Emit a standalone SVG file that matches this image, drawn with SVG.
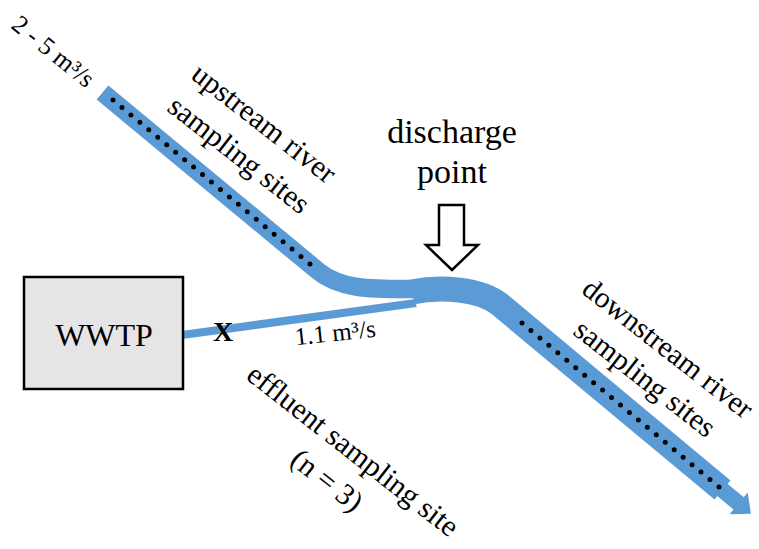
<svg xmlns="http://www.w3.org/2000/svg" width="759" height="549" viewBox="0 0 759 549">
<style>
.river{fill:none;stroke:#5B9BD5;stroke-linecap:butt;stroke-linejoin:round}
.dots{fill:none;stroke:#000;stroke-width:5;stroke-linecap:round;stroke-dasharray:0 11.65}
.t{font-family:"Liberation Serif","Times New Roman",serif;fill:#000}
</style>
<rect width="759" height="549" fill="#fff"/>
<g id="connectors">
  <path id="effluent" class="river" stroke-width="8" d="M182,335 L416,303"/>
  <path id="upstream" class="river" stroke-width="18.5" d="M102.5,92.5 L318,271 C341,290 373,289 414,289"/>
  <path id="downstream" class="river" stroke-width="25" d="M412,292 C440,286 480.8,288.7 500,304.7 L722.5,490"/>
  <polygon id="downstream-head" fill="#5B9BD5" transform="translate(722.5,490) rotate(39.79)" points="-1,-8 21,-8 21,-14.2 37,0 21,14.2 21,8 -1,8"/>
  <path class="dots" d="M113,100 L310.2,264.2"/>
  <path class="dots" d="M522,323 L719.2,487.2"/>
</g>
<g id="wwtp">
  <rect x="24" y="277" width="159" height="112" fill="#e5e5e5" stroke="#000" stroke-width="2.5"/>
  <text class="t" x="104" y="346" font-size="32" text-anchor="middle">WWTP</text>
</g>
<g id="discharge-point">
  <polygon points="439,205 464,205 464,245 478,245 452,270 426,245 439,245" fill="#fff" stroke="#000" stroke-width="2.5" stroke-linejoin="miter"/>
  <text class="t" x="452" y="143" font-size="34" text-anchor="middle">discharge</text>
  <text class="t" x="452" y="183" font-size="34" text-anchor="middle">point</text>
</g>
<g id="labels">
  <text class="t" font-size="25.5" text-anchor="middle" transform="translate(48,58) rotate(39)">2 - 5 m³/s</text>
  <text class="t" font-size="30" text-anchor="middle" transform="translate(258,131) rotate(38)">upstream river</text>
  <text class="t" font-size="30" text-anchor="middle" transform="translate(233,162.5) rotate(38)">sampling sites</text>
  <text class="t" font-size="29.5" text-anchor="middle" transform="translate(662,356) rotate(38)">downstream river</text>
  <text class="t" font-size="30" text-anchor="middle" transform="translate(639,386) rotate(38)">sampling sites</text>
  <text class="t" font-size="30" text-anchor="middle" transform="translate(347,458) rotate(38)">effluent sampling site</text>
  <text class="t" font-size="30" text-anchor="middle" transform="translate(321,488) rotate(38)">(n = 3)</text>
  <text class="t" font-size="25" text-anchor="middle" transform="translate(336,341) rotate(-6)">1.1 m³/s</text>
  <text class="t" font-size="28" font-weight="bold" x="223" y="341" text-anchor="middle">X</text>
</g>
</svg>
